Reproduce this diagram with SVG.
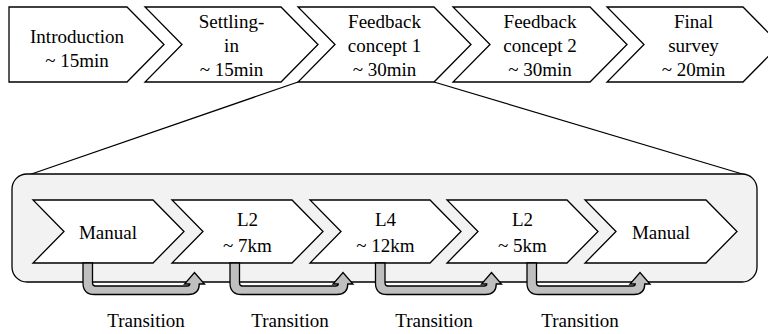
<svg xmlns="http://www.w3.org/2000/svg" width="768" height="334" viewBox="0 0 768 334">
<style>
.sh{fill:#ffffff;stroke:#000;stroke-width:1.3;stroke-linejoin:miter}
.t{font-family:'Liberation Serif','Times New Roman',serif;font-size:19px;fill:#000;text-anchor:middle}
.ln{stroke:#000;stroke-width:1.3;fill:none}
.ar{fill:#bfbfbf;stroke:#000;stroke-width:1.3;stroke-linejoin:miter}
</style>
<rect width="768" height="334" fill="#ffffff"/>
<g id="connectors">
<line class="ln" x1="298" y1="82" x2="30" y2="174.5"/>
<line class="ln" x1="434" y1="82" x2="744" y2="174.5"/>
</g>
<g id="detail-frame">
<rect x="12" y="174" width="745" height="108" rx="15" ry="15" fill="#f2f2f2" stroke="#000" stroke-width="1.3"/>
</g>
<g id="n-intro">
<polygon class="sh" points="9,7 127,7 164,44.5 127,82 9,82"/>
<text class="t" x="77" y="42.5">Introduction</text>
<text class="t" x="77" y="66.5">~ 15min</text>
</g>
<g id="n-settling">
<polygon class="sh" points="145,7 281,7 318,44.5 281,82 145,82 182,44.5"/>
<text class="t" x="231.5" y="27.5">Settling-</text>
<text class="t" x="231.5" y="51.5">in</text>
<text class="t" x="231.5" y="75.5">~ 15min</text>
</g>
<g id="n-fb1">
<polygon class="sh" points="298,7 434,7 471,44.5 434,82 298,82 335,44.5"/>
<text class="t" x="384.5" y="27.5">Feedback</text>
<text class="t" x="384.5" y="51.5">concept 1</text>
<text class="t" x="384.5" y="75.5">~ 30min</text>
</g>
<g id="n-fb2">
<polygon class="sh" points="453,7 590,7 627,44.5 590,82 453,82 490,44.5"/>
<text class="t" x="540" y="27.5">Feedback</text>
<text class="t" x="540" y="51.5">concept 2</text>
<text class="t" x="540" y="75.5">~ 30min</text>
</g>
<g id="n-final">
<polygon class="sh" points="607,7 743,7 780,44.5 743,82 607,82 644,44.5"/>
<text class="t" x="693.5" y="27.5">Final</text>
<text class="t" x="693.5" y="51.5">survey</text>
<text class="t" x="693.5" y="75.5">~ 20min</text>
</g>
<g id="s-manual1">
<polygon class="sh" points="33,200 153,200 184,231.5 153,263 33,263 64,231.5"/>
<text class="t" x="108" y="238.5">Manual</text>
</g>
<g id="s-l2a">
<polygon class="sh" points="172,200 292,200 323,231.5 292,263 172,263 203,231.5"/>
<text class="t" x="247.5" y="225.5">L2</text>
<text class="t" x="247.5" y="251.5">~ 7km</text>
</g>
<g id="s-l4">
<polygon class="sh" points="310,200 430,200 461,231.5 430,263 310,263 341,231.5"/>
<text class="t" x="385.5" y="225.5">L4</text>
<text class="t" x="385.5" y="251.5">~ 12km</text>
</g>
<g id="s-l2b">
<polygon class="sh" points="447,200 567,200 598,231.5 567,263 447,263 478,231.5"/>
<text class="t" x="522.5" y="225.5">L2</text>
<text class="t" x="522.5" y="251.5">~ 5km</text>
</g>
<g id="s-manual2">
<polygon class="sh" points="585,200 706,200 737,231.5 706,263 585,263 616,231.5"/>
<text class="t" x="661" y="238.5">Manual</text>
</g>
<g id="transitions">
<path class="ar" d="M83 263 L83 283 Q83 294.5 94.5 294.5 L188.5 294.5 Q199.25 294.5 199.25 284 L204.5 284 L194.5 272.5 L184.5 284 L189.75 284 Q189.75 286 187 286 L95.5 286 Q92.5 286 92.5 283 L92.5 263 Z"/>
<path class="ar" d="M230 263 L230 283 Q230 294.5 241.5 294.5 L337 294.5 Q347.75 294.5 347.75 284 L353 284 L343 272.5 L333 284 L338.25 284 Q338.25 286 335.5 286 L242.5 286 Q239.5 286 239.5 283 L239.5 263 Z"/>
<path class="ar" d="M375.5 263 L375.5 283 Q375.5 294.5 387 294.5 L485.5 294.5 Q496.25 294.5 496.25 284 L501.5 284 L491.5 272.5 L481.5 284 L486.75 284 Q486.75 286 484 286 L388 286 Q385 286 385 283 L385 263 Z"/>
<path class="ar" d="M527 263 L527 283 Q527 294.5 538.5 294.5 L634 294.5 Q644.75 294.5 644.75 284 L650 284 L640 272.5 L630 284 L635.25 284 Q635.25 286 632.5 286 L539.5 286 Q536.5 286 536.5 283 L536.5 263 Z"/>
<text class="t" x="146" y="327">Transition</text>
<text class="t" x="290" y="327">Transition</text>
<text class="t" x="434" y="327">Transition</text>
<text class="t" x="580" y="327">Transition</text>
</g>
</svg>
